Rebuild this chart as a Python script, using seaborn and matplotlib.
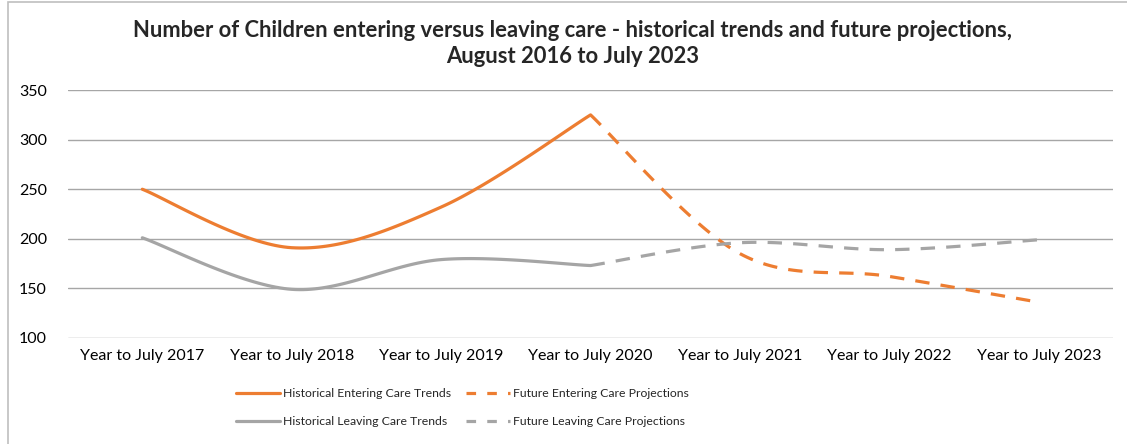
import numpy as np
import pandas as pd
import matplotlib
matplotlib.use('Agg')
import matplotlib.pyplot as plt
from matplotlib.lines import Line2D
import seaborn as sns

# ── Data ──────────────────────────────────────────────────────────────────────
YEARS = ["Year to July 2017", "Year to July 2018", "Year to July 2019",
         "Year to July 2020", "Year to July 2021", "Year to July 2022",
         "Year to July 2023"]

hist_entering = [250, 191, 232, 325]            # 2017-2020
future_entering = [325, 185, 162, 136]          # 2020-2023
hist_leaving = [201, 149, 179, 173]             # 2017-2020
future_leaving = [173, 196, 189, 199]           # 2020-2023

ORANGE = "#ED7D31"
GREY = "#A5A5A5"
TITLE = ("Number of Children entering versus leaving care - historical trends and future projections,\n"
         "August 2016 to July 2023")


def smooth(xs, ys, n=40):
    """Excel-style smoothed line (Catmull-Rom as cubic Bezier)."""
    p = np.column_stack([xs, ys]).astype(float)
    p = np.vstack([p[0], p, p[-1]])
    out = []
    t = np.linspace(0, 1, n)[:, None]
    for i in range(1, len(p) - 2):
        p0, p1, p2, p3 = p[i - 1], p[i], p[i + 1], p[i + 2]
        c1 = p1 + (p2 - p0) / 6
        c2 = p2 - (p3 - p1) / 6
        seg = ((1 - t) ** 3) * p1 + 3 * ((1 - t) ** 2) * t * c1 \
            + 3 * (1 - t) * t ** 2 * c2 + t ** 3 * p2
        out.append(seg if i == 1 else seg[1:])
    seg = np.vstack(out)
    return pd.DataFrame({"x": seg[:, 0], "y": seg[:, 1]})


sns.set_theme(style="white")
plt.rcParams["font.family"] = ["Lato", "DejaVu Sans"]

fig = plt.figure(figsize=(11.27, 4.44), dpi=100)
ax = fig.add_axes([0.060, 0.239, 0.928, 0.558])

series = [
    (range(0, 4), hist_entering, ORANGE, "-"),
    (range(3, 7), future_entering, ORANGE, "--"),
    (range(0, 4), hist_leaving, GREY, "-"),
    (range(3, 7), future_leaving, GREY, "--"),
]
for xs, ys, col, ls in series:
    df = smooth(list(xs), ys)
    sns.lineplot(data=df, x="x", y="y", sort=False, estimator=None,
                 color=col, lw=2.3, ax=ax)
    l = ax.lines[-1]
    if ls == "--":
        l.set_dashes((4.5, 3.5))
    l.set_zorder(3)

ax.set_xlim(-0.5, 6.5)
ax.set_ylim(100, 350)
ax.set_yticks(np.arange(100, 351, 50))
ax.set_xticks(range(len(YEARS)))
ax.set_xticklabels(YEARS)
ax.tick_params(axis="both", labelsize=11.5, colors="#000000", length=0, pad=8)
ax.tick_params(axis="y", pad=35)
for lab in ax.get_yticklabels():
    lab.set_horizontalalignment("left")
ax.grid(axis="y", color="#A6A6A6", lw=1)
ax.set_axisbelow(True)
for s in ax.spines.values():
    s.set_visible(False)
ax.set_xlabel("")
ax.set_ylabel("")

fig.text(0.508, 0.902, TITLE, ha="center", va="center", fontsize=15.8,
         fontweight="bold", linespacing=1.25)

handles = [
    Line2D([], [], color=ORANGE, lw=2.3),
    Line2D([], [], color=GREY, lw=2.3),
    Line2D([], [], color=ORANGE, lw=2.3, dashes=(3, 3.5)),
    Line2D([], [], color=GREY, lw=2.3, dashes=(3, 3.5)),
]
labels = ["Historical Entering Care Trends", "Historical Leaving Care Trends",
          "Future Entering Care Projections", "Future Leaving Care Projections"]
fig.legend(handles, labels, loc="center", bbox_to_anchor=(0.41, 0.082), ncol=2,
           frameon=False, fontsize=8.8, handlelength=3.6, handletextpad=0.25,
           columnspacing=1.2, labelspacing=1.35)

# chart frame
fig.add_artist(plt.Rectangle((0.007, -0.01), 1.1, 1.005, transform=fig.transFigure,
                             fill=False, edgecolor="#BFBFBF", lw=1.2))

fig.savefig("out.png", dpi=100)
